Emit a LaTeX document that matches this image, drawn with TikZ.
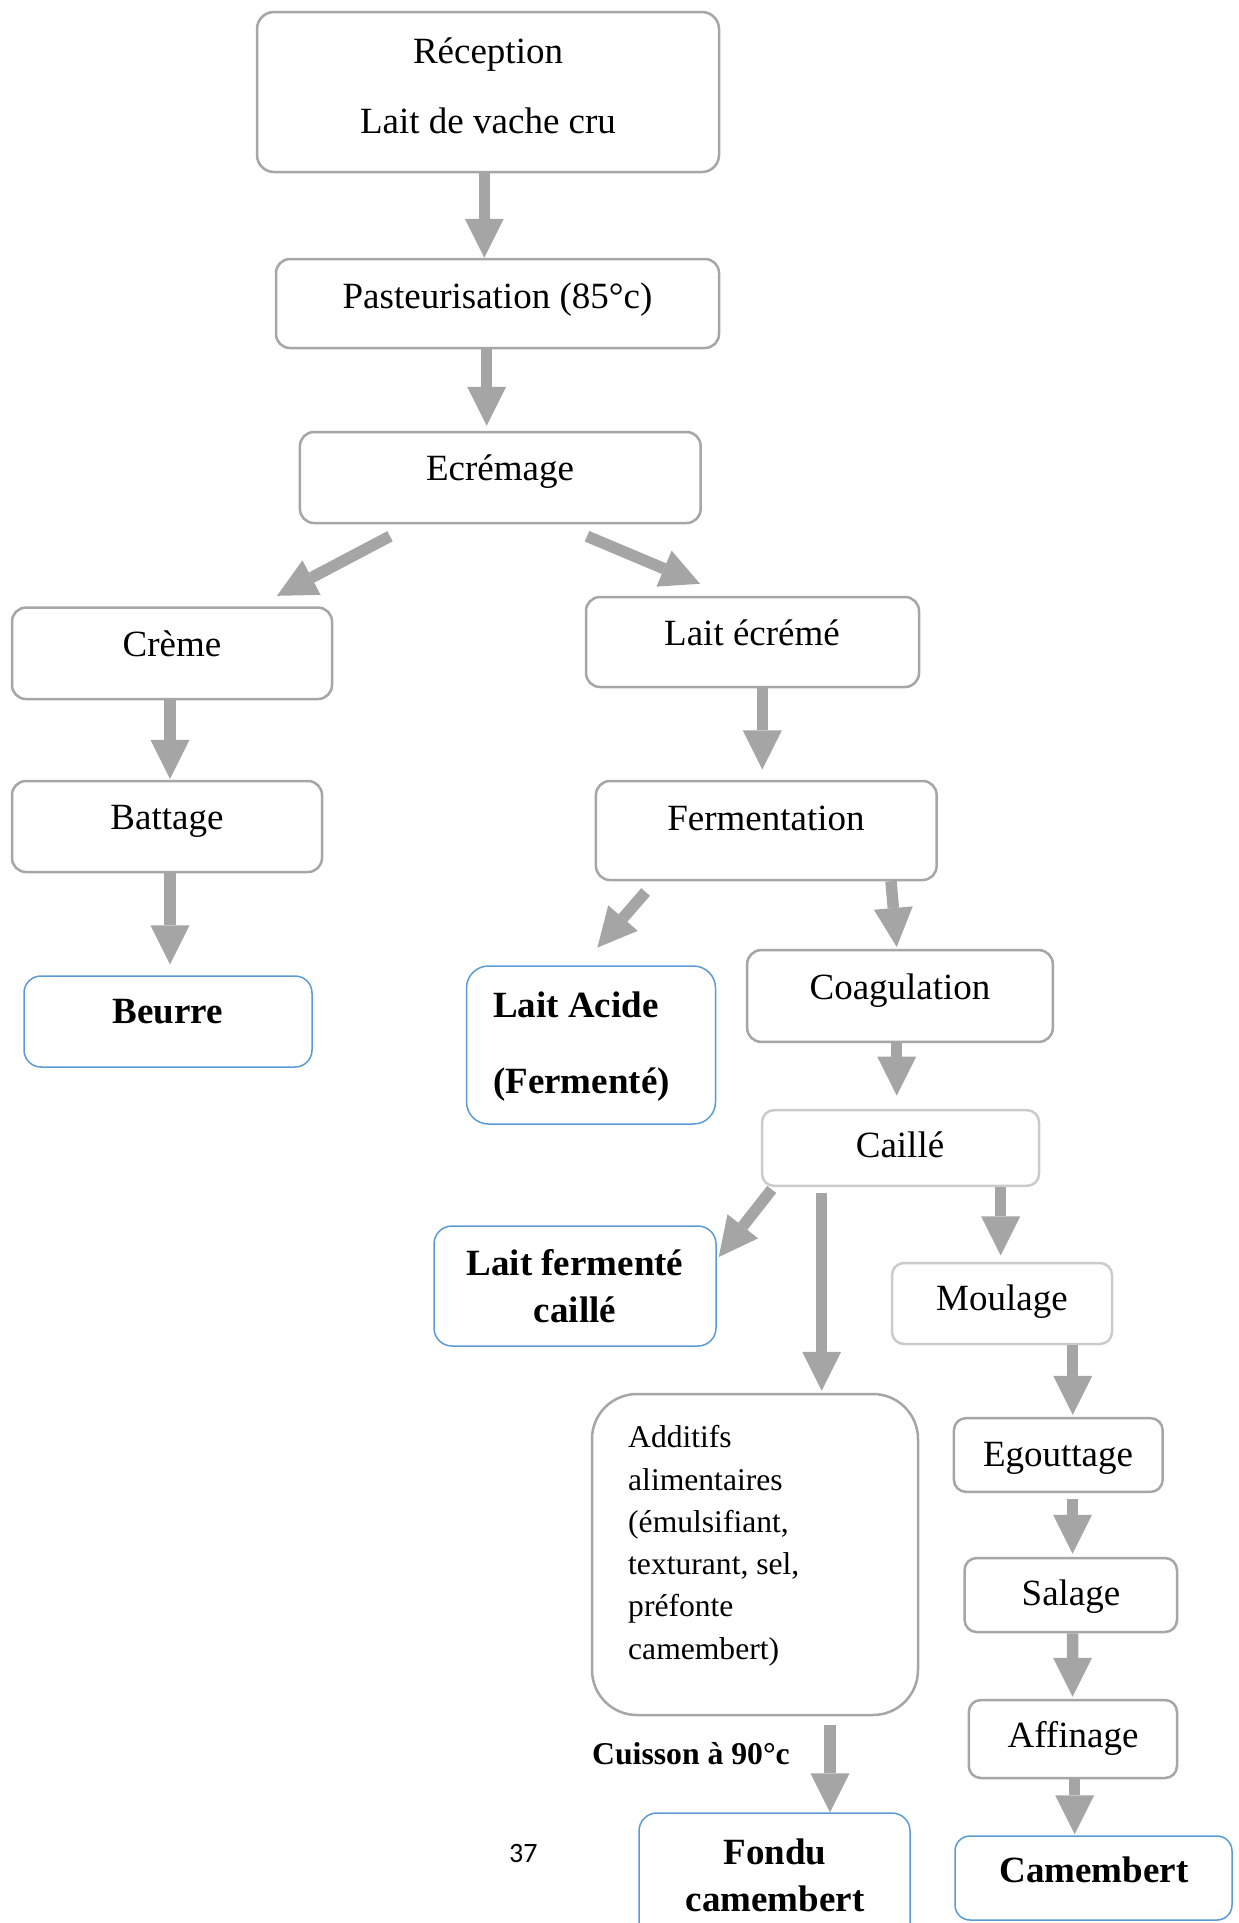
\documentclass[tikz,border=0pt]{standalone}
\usepackage{fontspec}
\setmainfont{Liberation Serif}
\newfontfamily\pagenumfont{Carlito}
\usetikzlibrary{arrows.meta}
\definecolor{flowgray}{HTML}{A5A5A5}
\definecolor{framegray}{HTML}{A6A6A6}
\definecolor{palegray}{HTML}{CBCBCB}
\definecolor{endblue}{HTML}{5B9BD5}
\begin{document}
\begin{tikzpicture}[x=1pt,y=-1pt,
  box/.style={draw=framegray, line width=2.5pt, rounded corners=14pt, inner sep=0pt, fill=white},
  palebox/.style={box, draw=palegray},
  endbox/.style={box, draw=endblue, line width=1.5pt, rounded corners=17pt},
  lbl/.style={anchor=base, inner sep=0pt, font=\fontsize{37}{44}\selectfont},
  blbl/.style={anchor=base, inner sep=0pt, font=\fontsize{37}{44}\selectfont\bfseries},
  small/.style={anchor=base west, inner sep=0pt, font=\fontsize{31.6}{40}\selectfont},
  flow/.style={draw=flowgray, line width=11.5pt, -{Triangle[length=39pt,width=39pt,line width=0pt]}}
]
\useasboundingbox (0,0) rectangle (1239,1923);
\clip (0,0) rectangle (1239,1923);

% ---------- boxes ----------
\node[box, rounded corners=17pt, minimum width=462pt, minimum height=160pt] (recep) at (488,92) {};
\node[box, minimum width=443pt, minimum height=89pt] (past) at (497.5,303.5) {};
\node[box, minimum width=400.7pt, minimum height=91pt] (ecr) at (500.3,477.5) {};
\node[box, minimum width=320pt, minimum height=91.5pt] (creme) at (172,653.3) {};
\node[box, minimum width=310pt, minimum height=91pt] (batt) at (167,826.5) {};
\node[endbox, minimum width=288pt, minimum height=91pt] (beurre) at (168,1021.5) {};
\node[box, minimum width=333pt, minimum height=90pt] (laitec) at (752.5,642) {};
\node[box, minimum width=340.7pt, minimum height=99pt] (ferm) at (766.3,830.5) {};
\node[endbox, rounded corners=22pt, minimum width=249pt, minimum height=158pt] (acide) at (591,1045) {};
\node[box, minimum width=305.7pt, minimum height=91.7pt] (coag) at (900,996) {};
\node[palebox, rounded corners=12pt, minimum width=277pt, minimum height=75.7pt] (caille) at (900.5,1148) {};
\node[endbox, rounded corners=18pt, minimum width=282pt, minimum height=120pt] (lfc) at (575,1286) {};
\node[palebox, rounded corners=12pt, minimum width=220pt, minimum height=81pt] (moul) at (1002,1303.5) {};
\node[box, rounded corners=45pt, minimum width=326pt, minimum height=321pt] (add) at (755,1554.5) {};
\node[box, rounded corners=12pt, minimum width=208.7pt, minimum height=73.7pt] (egout) at (1058.3,1455) {};
\node[box, rounded corners=12pt, minimum width=212.4pt, minimum height=74pt] (salage) at (1070.8,1595) {};
\node[box, rounded corners=12pt, minimum width=208.2pt, minimum height=78pt] (affin) at (1072.9,1739) {};
\node[endbox, rounded corners=15pt, minimum width=277pt, minimum height=84pt] (camem) at (1093.5,1878) {};
\node[endbox, rounded corners=18pt, minimum width=271pt, minimum height=132pt] (fondu) at (774.5,1879) {};

% ---------- texts ----------
\node[lbl] (recep-a) at (488,63) {Réception};
\node[lbl] (recep-b) at (488,133) {Lait de vache cru};
\node[lbl] (past-t) at (497.5,308) {Pasteurisation (85°c)};
\node[lbl] (ecr-t) at (500,480) {Ecrémage};
\node[lbl] (creme-t) at (172,656) {Crème};
\node[lbl] (batt-t) at (167,829) {Battage};
\node[blbl] (beurre-t) at (168,1023.6) {Beurre};
\node[lbl] (laitec-t) at (752,645) {Lait écrémé};
\node[lbl] (ferm-t) at (766,830) {Fermentation};
\node[blbl, anchor=base west] (acide-a) at (493,1017) {Lait Acide};
\node[blbl, anchor=base west] (acide-b) at (493,1093) {(Fermenté)};
\node[lbl] (coag-t) at (900,999) {Coagulation};
\node[lbl] (caille-t) at (900,1157) {Caillé};
\node[blbl] (lfc-a) at (575,1275) {Lait fermenté};
\node[blbl] (lfc-b) at (575,1322) {caillé};
\node[lbl] (moul-t) at (1002,1310.7) {Moulage};
\node[small] (add-1) at (628,1447) {Additifs};
\node[small] (add-2) at (628,1490) {alimentaires};
\node[small] (add-3) at (628,1532) {(émulsifiant,};
\node[small] (add-4) at (628,1574) {texturant, sel,};
\node[small] (add-5) at (628,1616.5) {préfonte};
\node[small] (add-6) at (628,1659) {camembert)};
\node[lbl] (egout-t) at (1058,1466) {Egouttage};
\node[lbl] (salage-t) at (1071,1605) {Salage};
\node[lbl] (affin-t) at (1073,1747) {Affinage};
\node[blbl] (camem-t) at (1094,1882) {Camembert};
\node[blbl] (fondu-a) at (775,1864) {Fondu};
\node[blbl] (fondu-b) at (775,1911.7) {camembert};
\node[small, font=\fontsize{31.7}{40}\selectfont\bfseries] (cuisson) at (592,1764) {Cuisson à 90°c};
\node[anchor=base west, inner sep=0pt, font=\pagenumfont\fontsize{28}{32}\selectfont] (pnum) at (509,1862) {37};

% ---------- flow arrows ----------
\draw[flow] ([shift={(-3.7,0)}]recep.south) -- ([shift={(-13.2,0)}]past.north);
\draw[flow] ([shift={(-10.8,0)}]past.south) -- ([shift={(-13.6,-5)}]ecr.north);
\draw[flow] ([shift={(-110.3,12)}]ecr.south) -- ([shift={(105,-10.5)}]creme.north);
\draw[flow] ([shift={(86.7,12)}]ecr.south) -- ([shift={(-52.5,-12)}]laitec.north);
\draw[flow] ([shift={(-2,0)}]creme.south) -- ([shift={(3,-1)}]batt.north);
\draw[flow] ([shift={(3,0)}]batt.south) -- ([shift={(2,-11)}]beurre.north);
\draw[flow] ([shift={(9.8,0)}]laitec.south) -- ([shift={(-4,-10.3)}]ferm.north);
\draw[flow] ([shift={(-120.7,10.7)}]ferm.south) -- ([shift={(6.4,-17.7)}]acide.north);
\draw[flow] ([shift={(124.7,0)}]ferm.south) -- ([shift={(-3.3,-2)}]coag.north);
\draw[flow] ([shift={(-3.3,0)}]coag.south) -- ([shift={(-3.8,-13.3)}]caille.north);
\draw[flow] ([shift={(-128.8,2.3)}]caille.south) -- ([shift={(2,-29)}]lfc.east);
\draw[flow] ([shift={(-78.8,6)}]caille.south) -- ([shift={(66.7,-2)}]add.north);
\draw[flow] ([shift={(100.2,0)}]caille.south) -- ([shift={(-1.3,-6.3)}]moul.north);
\draw[flow] ([shift={(70.7,0)}]moul.south) -- ([shift={(14.4,-2)}]egout.north);
\draw[flow] ([shift={(14.3,6.3)}]egout.south) -- ([shift={(1.8,-3)}]salage.north);
\draw[flow] ([shift={(1.8,0)}]salage.south) -- ([shift={(-0.3,-2)}]affin.north);
\draw[flow] ([shift={(1.8,0)}]affin.south) -- ([shift={(-18.8,-1)}]camem.north);
\draw[flow] ([shift={(75,9)}]add.south) -- ([shift={(55.5,0)}]fondu.north);
\end{tikzpicture}
\end{document}
